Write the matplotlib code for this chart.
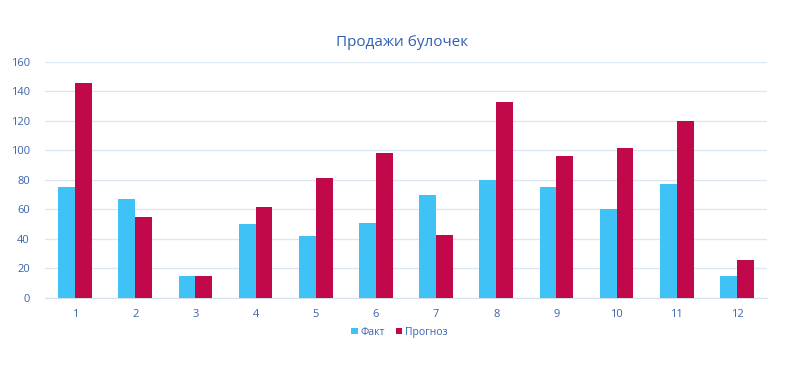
import numpy as np
import matplotlib
matplotlib.use('Agg')
import matplotlib.pyplot as plt

plt.rcParams['font.family'] = ['Open Sans', 'DejaVu Sans']

months = [str(i) for i in range(1, 13)]
fact = [75, 67, 15, 50, 42, 51, 70, 80, 75, 60, 77, 15]
forecast = [146, 55, 15, 62, 81, 98, 43, 133, 96, 102, 120, 26]

blue = '#3fc3f7'
red = '#c0084b'
txt = '#3a63ad'

fig = plt.figure(figsize=(8.07, 3.71), dpi=100)
ax = fig.add_axes([0.0558, 0.1968, 0.8947, 0.6362])

x = np.arange(1, 13)
w = 0.28
ax.bar(x - w / 2, fact, w, color=blue, label='Факт', zorder=3)
ax.bar(x + w / 2, forecast, w, color=red, label='Прогноз', zorder=3)

ax.set_xlim(0.5, 12.5)
ax.set_ylim(0, 160)
ax.set_yticks(range(0, 161, 20))
ax.set_xticks(x)
ax.set_xticklabels(months)
ax.grid(axis='y', color='#dde7f1', linewidth=1, zorder=0)
for s in ['top', 'right', 'left']:
    ax.spines[s].set_visible(False)
ax.spines['bottom'].set_color('#d5e0ec')
ax.tick_params(length=0, colors=txt, labelsize=8)
ax.tick_params(axis='y', pad=11)
ax.tick_params(axis='x', pad=8)

fig.text(0.498, 0.885, 'Продажи булочек', ha='center', va='center', color='#2f5fb3', fontsize=11)

fig.legend(loc='center', bbox_to_anchor=(0.495, 0.105), ncol=2, frameon=False,
           fontsize=7.5, handlelength=0.6, handleheight=0.6, handletextpad=0.3,
           columnspacing=1.0, labelcolor=txt)

fig.savefig('out.png', dpi=100, facecolor='white')
